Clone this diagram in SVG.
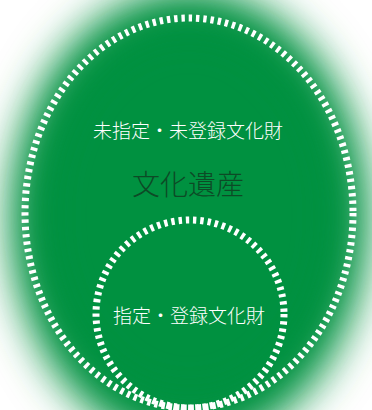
<svg xmlns="http://www.w3.org/2000/svg" width="372" height="410" viewBox="0 0 372 410">
<defs>
<filter id="blur" x="-40%" y="-40%" width="180%" height="180%"><feGaussianBlur stdDeviation="22"/></filter>
<style>
.dash{fill:none;stroke:#fff;stroke-width:7;stroke-dasharray:3.4 3.9}
.t{font-family:"Noto Sans CJK JP","Noto Sans",sans-serif;text-anchor:middle;font-weight:300}
.w{fill:#fff;font-size:19px}
.d{fill:#0d4a26;font-size:28px}
</style>
</defs>
<rect width="372" height="410" fill="#fff"/>
<ellipse cx="189" cy="218" rx="178" ry="228" fill="#00913f" filter="url(#blur)"/>
<ellipse cx="189" cy="215" rx="150" ry="190" fill="#00913f" filter="url(#blur)"/>
<g id="outer">
<ellipse class="dash" cx="189" cy="213" rx="164" ry="195"/>
<text class="t w" x="188" y="138">未指定・未登録文化財</text>
<text class="t d" x="188" y="195">文化遺産</text>
</g>
<g id="inner">
<circle class="dash" cx="190" cy="314" r="94"/>
<text class="t w" x="189" y="323">指定・登録文化財</text>
</g>
<g id="connectors"/>
</svg>
